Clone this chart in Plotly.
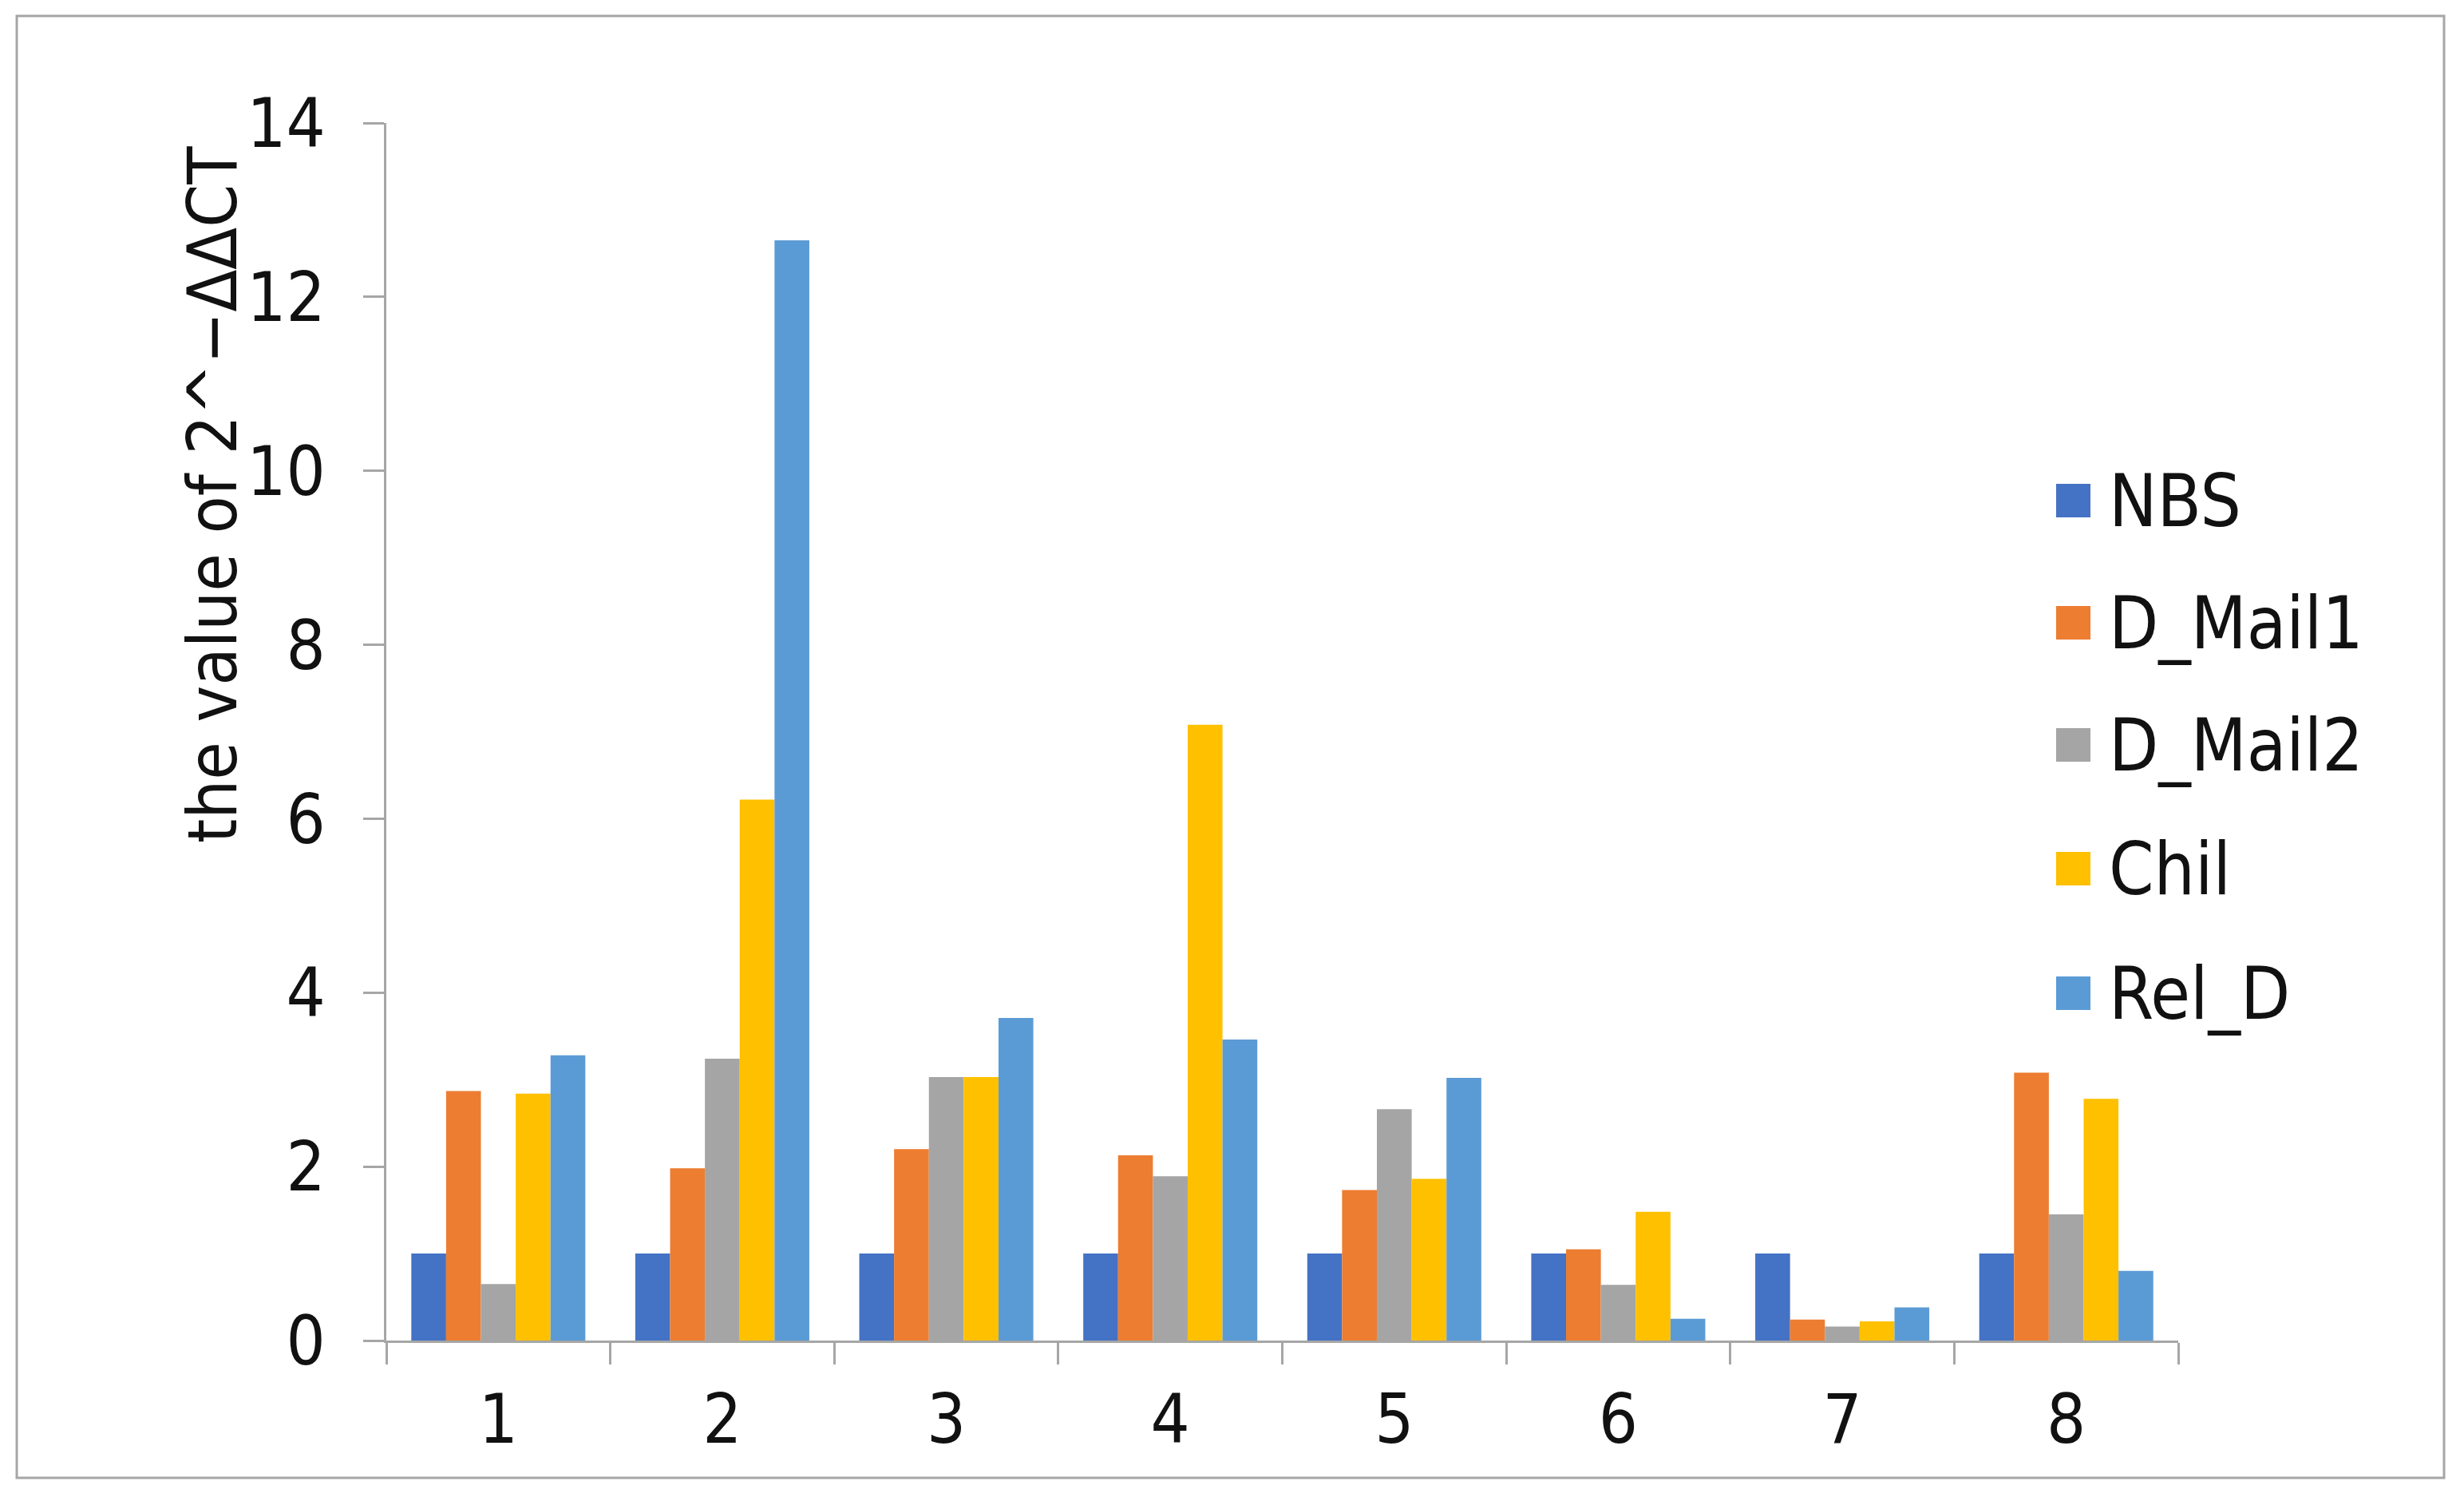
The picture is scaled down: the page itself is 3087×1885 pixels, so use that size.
import plotly.graph_objects as go

categories = ["1", "2", "3", "4", "5", "6", "7", "8"]
series_names = ["NBS", "D_Mail1", "D_Mail2", "Chil", "Rel_D"]
nbs = [1.0, 1.0, 1.0, 1.0, 1.0, 1.0, 1.0, 1.0]
d_mail1 = [2.87, 1.98, 2.20, 2.13, 1.73, 1.05, 0.24, 3.08]
d_mail2 = [0.65, 3.24, 3.03, 1.89, 2.66, 0.64, 0.16, 1.45]
chil = [2.84, 6.22, 3.03, 7.08, 1.86, 1.48, 0.22, 2.78]
rel_d = [3.28, 12.65, 3.71, 3.46, 3.02, 0.25, 0.38, 0.80]
y_ticks = [0, 2, 4, 6, 8, 10, 12, 14]
y_title = "the value of 2^−ΔΔCT"

colors = ["#4472C4", "#ED7D31", "#A5A5A5", "#FFC000", "#5B9BD5"]
values = [nbs, d_mail1, d_mail2, chil, rel_d]

W, H = 3087, 1885
L, R, T, B = 484, 2729, 154, 1679
FONT = "DejaVu Sans Condensed, DejaVu Sans"
AXIS_COLOR = "#A6A6A6"
TXT = "#111111"


def px_x(p):
    return (p - L) / (R - L)


def px_y(p):
    return (B - p) / (B - T)


fig = go.Figure()
for name, vals, col in zip(series_names, values, colors):
    fig.add_trace(go.Bar(x=categories, y=vals, name=name, marker_color=col,
                         marker_line_width=0, showlegend=False))

fig.update_layout(
    width=W, height=H,
    margin=dict(l=L, r=W - R, t=T, b=H - B, pad=0),
    paper_bgcolor="white", plot_bgcolor="white",
    barmode="group", bargap=0.223, bargroupgap=0,
    font=dict(family=FONT, size=86, color=TXT),
)
fig.update_xaxes(
    type="category", showgrid=False, showline=True, linecolor=AXIS_COLOR, linewidth=3,
    ticks="outside", tickson="boundaries", ticklen=27, tickwidth=3, tickcolor=AXIS_COLOR,
    tickfont=dict(size=86), ticklabelstandoff=22,
)
fig.update_yaxes(
    range=[0, 14], tickvals=y_ticks, showgrid=False, zeroline=False,
    showline=True, linecolor=AXIS_COLOR, linewidth=3,
    ticks="outside", ticklen=26, tickwidth=3, tickcolor=AXIS_COLOR,
    tickfont=dict(size=86), ticklabelstandoff=30,
)

# y-axis title
fig.add_annotation(text=y_title, xref="paper", yref="paper", x=px_x(266), y=px_y(620),
                   textangle=-90, showarrow=False, xanchor="center", yanchor="middle",
                   font=dict(size=86, family=FONT, color=TXT))

# outer border
fig.add_shape(type="rect", xref="paper", yref="paper",
              x0=px_x(21), x1=px_x(3062), y0=px_y(1851), y1=px_y(20),
              line=dict(color="#A6A6A6", width=3), fillcolor="rgba(0,0,0,0)", layer="below")

# manual legend (large square keys)
legend_centers = [627, 780, 933, 1088, 1244]
for name, col, cy in zip(series_names, colors, legend_centers):
    fig.add_shape(type="rect", xref="paper", yref="paper",
                  x0=px_x(2576), x1=px_x(2619), y0=px_y(cy + 21), y1=px_y(cy - 21),
                  line=dict(width=0), fillcolor=col)
    fig.add_annotation(text=name, xref="paper", yref="paper", x=px_x(2640), y=px_y(cy),
                       xanchor="left", yanchor="middle", showarrow=False,
                       font=dict(size=90, family=FONT, color=TXT))

fig.write_html("out.html", config={"displayModeBar": False},
               post_script="document.body.style.margin='0';document.body.style.overflow='hidden';")
